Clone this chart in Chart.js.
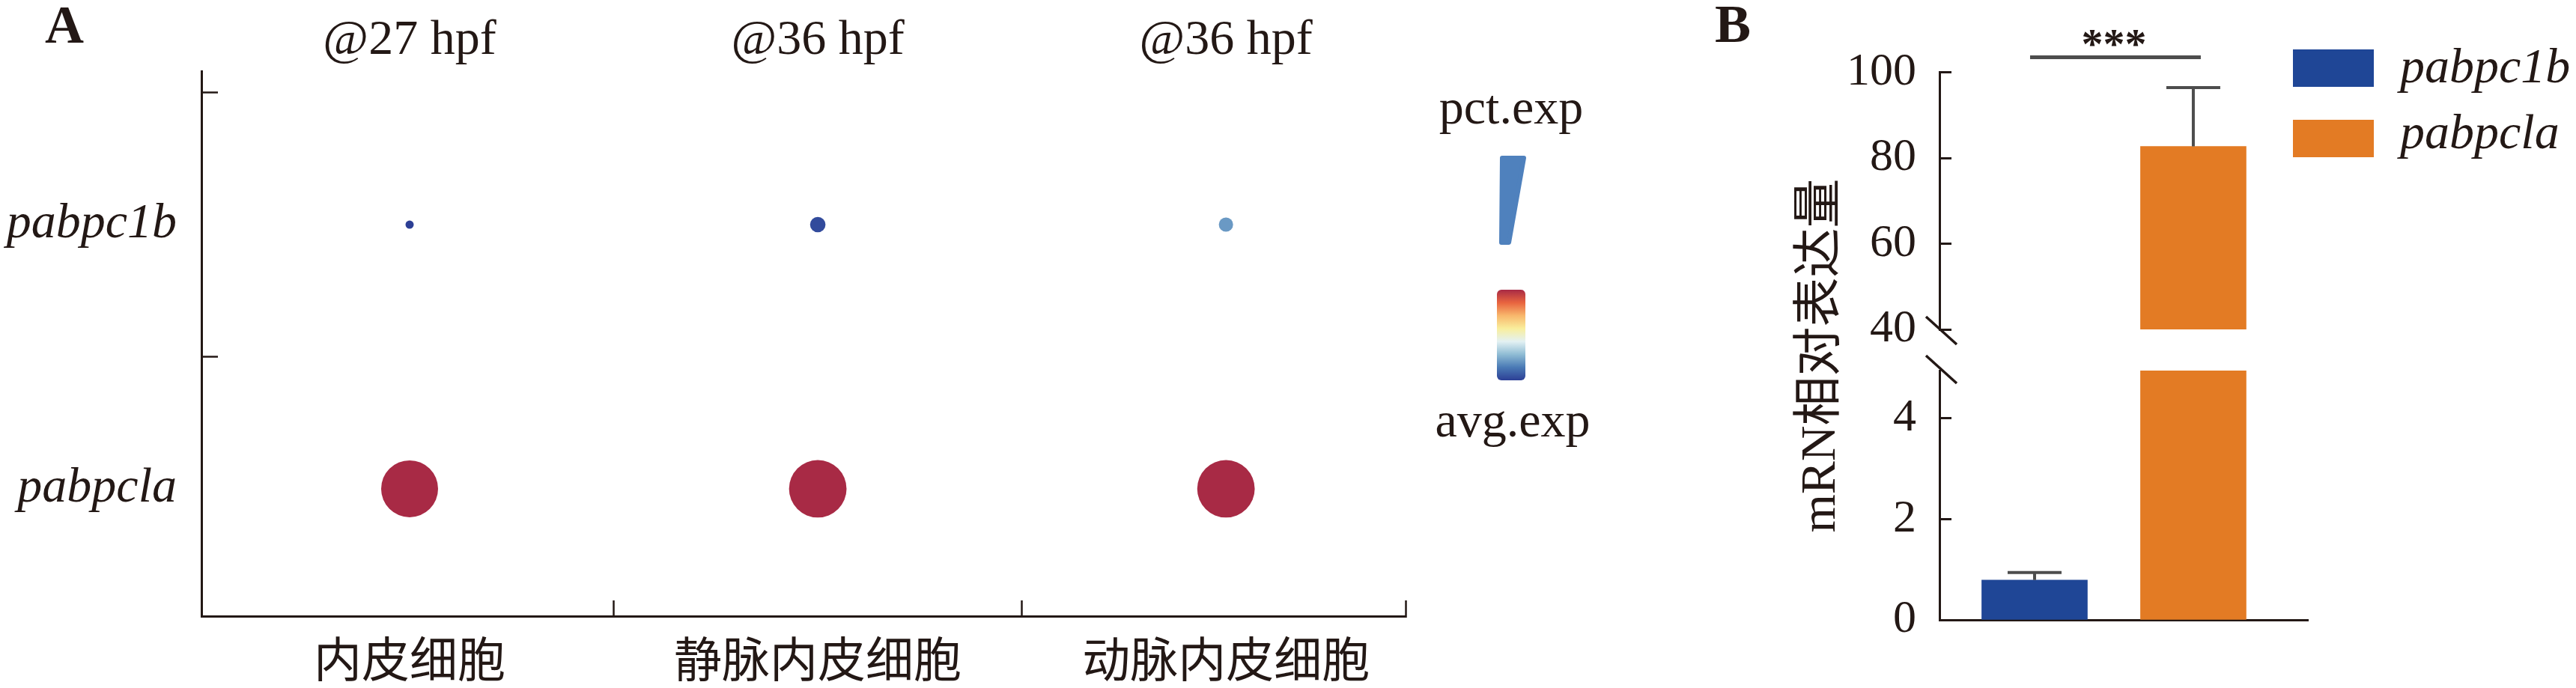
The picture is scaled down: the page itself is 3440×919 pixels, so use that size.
<!DOCTYPE html>
<html>
<head>
<meta charset="utf-8">
<script src="https://cdn.jsdelivr.net/npm/chart.js@4.4.1/dist/chart.umd.min.js"></script>
<style>
  html, body { margin: 0; padding: 0; background: #fff; }
  #page {
    position: relative; width: 3440px; height: 919px; overflow: hidden;
    font-family: 'Liberation Serif', 'Noto Sans CJK SC', serif; color: #231815;
  }
  canvas { position: absolute; }
  .lbl { position: absolute; white-space: nowrap; line-height: 1; }
  .panel { font-size: 72px; font-weight: bold; }
  .mid { width: 300px; text-align: center; font-size: 66px; }
</style>
</head>
<body>
<div id="page">
  <canvas id="dotChart" width="1960" height="919" style="left:0;top:0"></canvas>
  <canvas id="barTop" width="1140" height="470" style="left:2300px;top:0"></canvas>
  <canvas id="barBottom" width="1140" height="449" style="left:2300px;top:470px"></canvas>

  <div class="lbl panel" style="left:60px;top:-3px">A</div>
  <div class="lbl panel" style="left:2290px;top:-4px">B</div>

  <div class="lbl mid" style="left:1868px;top:110px">pct.exp</div>
  <svg style="position:absolute;left:0;top:0" width="3440" height="919">
    <polygon points="2006,211 2035,211 2015,324 2005,324" fill="#4f81bd" stroke="#4f81bd" stroke-width="6" stroke-linejoin="round"/>
  </svg>
  <div id="colorBar" style="position:absolute;left:1999px;top:387px;width:38px;height:121px;border-radius:6px"></div>
  <div class="lbl mid" style="left:1870px;top:528px">avg.exp</div>

  <div class="lbl" id="yTitle" style="left:2428px;top:475px;font-size:66px;transform:translate(-50%,-50%) rotate(-90deg)">mRN相对表达量</div>
  <div id="barLegend"></div>
</div>

<script>
// ---- panel A : dot plot
const cellTypes = ['内皮细胞', '静脉内皮细胞', '动脉内皮细胞'];
const stages = ['@27 hpf', '@36 hpf', '@36 hpf'];
const genes = ['pabpc1b', 'pabpcla'];
const pctPabpc1b = [2, 7, 6];
const pctPabpcla = [95, 97, 97];
const avgPabpc1b = [0.0, 0.03, 0.21];
const avgPabpcla = [1.0, 1.0, 1.0];

// ---- panel B : broken-axis bar chart
const barGenes = ['pabpc1b', 'pabpcla'];
const barMeans = [0.79, 82.7];
const barErrors = [0.15, 13.7];
const upperTicks = [40, 60, 80, 100];
const lowerTicks = [0, 2, 4];
const sigLabel = '***';

const ink = '#231815';
const barColors = ['#1f4696', '#e37b24'];
const heatColors = ['#2c3f95', '#4a7ab5', '#8fbcd4', '#e3f1f3', '#f9ee9c', '#f8b76c', '#e8643f', '#a82a45'];

Chart.defaults.font.family = "'Liberation Serif', 'Noto Sans CJK SC', serif";
Chart.defaults.color = ink;

function hexRgb(h) {
    return [1, 3, 5].map(k => parseInt(h.slice(k, k + 2), 16));
}

function colorOf(v) {
    const n = heatColors.length - 1;
    const t = Math.min(Math.max(v, 0), 1) * n;
    const i = Math.min(Math.floor(t), n - 1);
    const f = t - i;
    const a = hexRgb(heatColors[i]), b = hexRgb(heatColors[i + 1]);
    const c = a.map((x, k) => Math.round(x + (b[k] - x) * f));
    return `rgb(${c[0]},${c[1]},${c[2]})`;
}

const sizeOf = p => 3.9 * Math.sqrt(p);
const clear = 'rgba(0,0,0,0)';

// fixed axis size, no extra label padding pushed into the layout
function fixSize(prop, px) {
    return s => {
        s[prop] = px;
        s.paddingTop = 0; s.paddingBottom = 0; s.paddingLeft = 0; s.paddingRight = 0;
    };
}

document.getElementById('colorBar').style.background =
    'linear-gradient(to bottom,' + heatColors.slice().reverse().join(',') + ')';

new Chart(document.getElementById('dotChart'), {
    type: 'scatter',
    data: {
        datasets: [
            {
                label: genes[0],
                data: cellTypes.map((c, i) => ({ x: i, y: 1 })),
                pointRadius: pctPabpc1b.map(sizeOf),
                pointBackgroundColor: avgPabpc1b.map(colorOf),
                pointBorderWidth: 0
            },
            {
                label: genes[1],
                data: cellTypes.map((c, i) => ({ x: i, y: 0 })),
                pointRadius: pctPabpcla.map(sizeOf),
                pointBackgroundColor: avgPabpcla.map(colorOf),
                pointBorderWidth: 0
            }
        ]
    },
    options: {
        responsive: false,
        animation: false,
        events: [],
        layout: { padding: { left: 0, right: 83, top: 0, bottom: 0 } },
        plugins: { legend: { display: false }, tooltip: { enabled: false } },
        scales: {
            x: {
                type: 'linear', position: 'bottom', min: -0.51, max: 2.44,
                afterBuildTicks: s => { s.ticks = [0, 0.5, 1, 1.5, 2, s.max].map(v => ({ value: v })); },
                afterFit: fixSize('height', 96),
                ticks: {
                    autoSkip: false, maxRotation: 0, padding: 47,
                    font: { size: 64 },
                    callback: v => Number.isInteger(v) ? cellTypes[v] : ''
                },
                grid: {
                    drawOnChartArea: false, drawTicks: true, tickLength: -21, tickWidth: 2.5,
                    tickColor: ctx => Number.isInteger(ctx.tick.value) ? clear : ink
                },
                border: { display: true, width: 3, color: ink }
            },
            x2: {
                type: 'linear', position: 'top', min: -0.51, max: 2.44,
                afterBuildTicks: s => { s.ticks = stages.map((t, i) => ({ value: i })); },
                afterFit: fixSize('height', 95),
                ticks: {
                    autoSkip: false, maxRotation: 0, padding: 1,
                    font: { size: 66 },
                    callback: v => stages[v]
                },
                grid: { display: false, drawTicks: false },
                border: { display: false }
            },
            y: {
                type: 'linear', min: -0.482, max: 1.581,
                afterBuildTicks: s => { s.ticks = [0, 0.5, 1, 1.5].map(v => ({ value: v })); },
                afterFit: fixSize('width', 269),
                ticks: {
                    autoSkip: false, padding: 55,
                    font: { size: 66, style: 'italic' },
                    callback: v => Number.isInteger(v) ? genes[genes.length - 1 - v] : ''
                },
                grid: {
                    drawOnChartArea: false, drawTicks: true, tickLength: -22, tickWidth: 2.5,
                    tickColor: ctx => Number.isInteger(ctx.tick.value) ? clear : ink
                },
                border: { display: true, width: 3, color: ink }
            }
        }
    }
});

// error bars, clipped to each segment
const errorBars = {
    id: 'errorBars',
    afterDatasetsDraw(chart) {
        const { ctx, chartArea: a, scales: { x, y } } = chart;
        ctx.save();
        ctx.beginPath();
        ctx.rect(a.left, a.top - 4, a.right - a.left, a.bottom - a.top + 4);
        ctx.clip();
        ctx.strokeStyle = '#4d4d4d';
        ctx.lineWidth = 4;
        barMeans.forEach((m, i) => {
            const cx = x.getPixelForValue(i);
            const yTop = y.getPixelForValue(m + barErrors[i]);
            const yBar = y.getPixelForValue(m);
            ctx.beginPath();
            ctx.moveTo(cx, yBar);
            ctx.lineTo(cx, yTop);
            ctx.moveTo(cx - 36, yTop);
            ctx.lineTo(cx + 36, yTop);
            ctx.stroke();
        });
        ctx.restore();
    }
};

function breakMark(edge) {
    return {
        id: 'breakMark',
        afterDraw(chart) {
            const { ctx, chartArea: a } = chart;
            const y0 = edge === 'bottom' ? a.bottom - 17 : a.top - 20;
            ctx.save();
            ctx.strokeStyle = ink;
            ctx.lineWidth = 3.5;
            ctx.beginPath();
            ctx.moveTo(a.left - 18, y0);
            ctx.lineTo(a.left + 23, y0 + 37);
            ctx.stroke();
            ctx.restore();
        }
    };
}

const sigBar = {
    id: 'sigBar',
    afterDraw(chart) {
        const { ctx, chartArea: a, scales: { x } } = chart;
        const x0 = x.getPixelForValue(0) - 6;
        const x1 = x.getPixelForValue(1) + 10;
        const yl = a.top - 20;
        ctx.save();
        ctx.strokeStyle = '#4d4d4d';
        ctx.lineWidth = 5;
        ctx.beginPath();
        ctx.moveTo(x0, yl);
        ctx.lineTo(x1, yl);
        ctx.stroke();
        ctx.fillStyle = ink;
        ctx.font = "bold 58px 'Liberation Serif'";
        ctx.textAlign = 'center';
        ctx.textBaseline = 'alphabetic';
        ctx.fillText(sigLabel, (x.getPixelForValue(0) + x.getPixelForValue(1)) / 2, yl + 1);
        ctx.restore();
    }
};

function barSegment(id, yMin, yMax, yTicks, padding, showX, extra) {
    return new Chart(document.getElementById(id), {
        type: 'bar',
        data: {
            datasets: [{
                data: barGenes.map((g, i) => ({ x: i, y: barMeans[i] })),
                backgroundColor: barColors,
                borderWidth: 0,
                barThickness: 141,
                clip: 0
            }]
        },
        options: {
            responsive: false,
            animation: false,
            events: [],
            layout: { padding: padding },
            plugins: { legend: { display: false }, tooltip: { enabled: false } },
            scales: {
                x: {
                    type: 'linear', display: showX, offset: false, min: -0.599, max: 1.722, z: 1,
                    afterBuildTicks: s => { s.ticks = barGenes.map((g, i) => ({ value: i })); },
                    afterFit: fixSize('height', showX ? 91 : 0),
                    ticks: { autoSkip: false, maxRotation: 0, callback: () => '' },
                    grid: { offset: false, drawOnChartArea: false, drawTicks: true, tickLength: -22, tickWidth: 3, tickColor: ink },
                    border: { display: true, width: 3, color: ink }
                },
                y: {
                    type: 'linear', min: yMin, max: yMax,
                    afterBuildTicks: s => { s.ticks = yTicks.map(v => ({ value: v })); },
                    afterFit: fixSize('width', 290),
                    ticks: { autoSkip: false, padding: 47, font: { size: 62 } },
                    grid: { drawOnChartArea: false, drawTicks: true, tickLength: -16, tickWidth: 3, tickColor: ink },
                    border: { display: true, width: 3, color: ink }
                }
            }
        },
        plugins: [errorBars].concat(extra)
    });
}

barSegment('barTop', 40, 100, upperTicks, { left: 0, right: 358, top: 96.5, bottom: 30 }, false,
    [breakMark('bottom'), sigBar]);
barSegment('barBottom', 0, 4.95, lowerTicks, { left: 0, right: 358, top: 25, bottom: 0 }, true,
    [breakMark('top')]);

// legend for panel B
const legend = document.getElementById('barLegend');
barGenes.forEach((g, i) => {
    const box = document.createElement('div');
    box.style.cssText = `position:absolute;left:3062px;top:${66 + 94 * i}px;width:108px;height:50px;background:${barColors[i]}`;
    legend.appendChild(box);
    const txt = document.createElement('div');
    txt.className = 'lbl';
    txt.style.cssText = `left:3205px;top:${55 + 88 * i}px;font-size:66px;font-style:italic`;
    txt.textContent = g;
    legend.appendChild(txt);
});
</script>
</body>
</html>
